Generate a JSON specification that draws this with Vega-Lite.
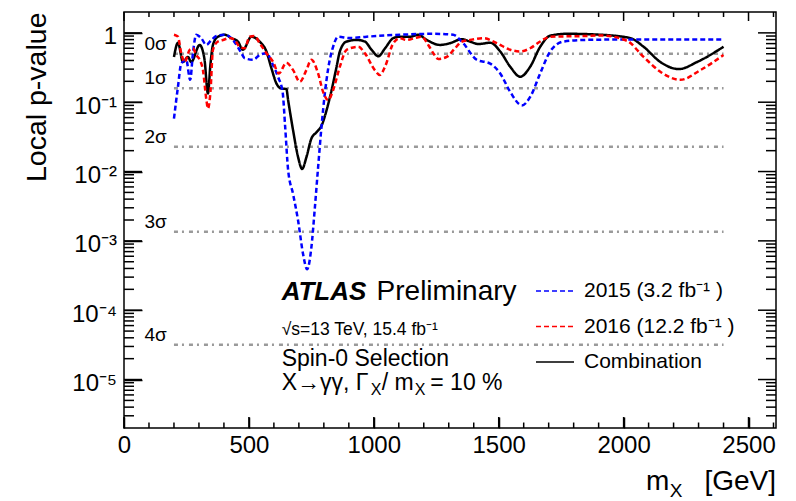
{
  "$schema": "https://vega.github.io/schema/vega-lite/v6.json",
  "width": 652,
  "height": 416,
  "autosize": {"type": "none"},
  "padding": {"left": 124, "top": 12, "right": 20, "bottom": 73},
  "background": "white",
  "config": {
    "view": {"stroke": "black", "strokeWidth": 1.5},
    "font": "Liberation Sans",
    "axis": {"domain": false, "grid": false, "tickColor": "black", "tickWidth": 1.5, "labelFont": "Liberation Sans", "labelFontSize": 24, "labelColor": "black", "labelFlush": false, "labelOverlap": false, "titleFont": "Liberation Sans", "titleColor": "black", "titleFontWeight": "normal"},
    "legend": {"labelFont": "Liberation Sans"}
  },
  "datasets": {
    "xmajor": [{"v": 0}, {"v": 500}, {"v": 1000}, {"v": 1500}, {"v": 2000}, {"v": 2500}],
    "xminor": [{"v": 100}, {"v": 200}, {"v": 300}, {"v": 400}, {"v": 600}, {"v": 700}, {"v": 800}, {"v": 900}, {"v": 1100}, {"v": 1200}, {"v": 1300}, {"v": 1400}, {"v": 1600}, {"v": 1700}, {"v": 1800}, {"v": 1900}, {"v": 2100}, {"v": 2200}, {"v": 2300}, {"v": 2400}, {"v": 2600}],
    "ymajor": [{"v": 0.00001}, {"v": 0.0001}, {"v": 0.001}, {"v": 0.01}, {"v": 0.1}, {"v": 1}],
    "yminor": [{"v": 0.000003}, {"v": 0.000004}, {"v": 0.000005}, {"v": 0.000006}, {"v": 0.000007}, {"v": 0.000008}, {"v": 0.000009}, {"v": 0.00002}, {"v": 0.00003}, {"v": 0.00004}, {"v": 0.00005}, {"v": 0.00006}, {"v": 0.00007}, {"v": 0.00008}, {"v": 0.00009}, {"v": 0.0002}, {"v": 0.0003}, {"v": 0.0004}, {"v": 0.0005}, {"v": 0.0006}, {"v": 0.0007}, {"v": 0.0008}, {"v": 0.0009}, {"v": 0.002}, {"v": 0.003}, {"v": 0.004}, {"v": 0.005}, {"v": 0.006}, {"v": 0.007}, {"v": 0.008}, {"v": 0.009}, {"v": 0.02}, {"v": 0.03}, {"v": 0.04}, {"v": 0.05}, {"v": 0.06}, {"v": 0.07}, {"v": 0.08}, {"v": 0.09}, {"v": 0.2}, {"v": 0.3}, {"v": 0.4}, {"v": 0.5}, {"v": 0.6}, {"v": 0.7}, {"v": 0.8}, {"v": 0.9}],
    "sigma": [
      {"level": "0σ", "p": 0.5},
      {"level": "1σ", "p": 0.1587},
      {"level": "2σ", "p": 0.02275},
      {"level": "3σ", "p": 0.00135},
      {"level": "4σ", "p": 0.0000317}
    ],
    "curves": [
      {"series": "Combination", "m": 200, "p": 0.45},
      {"series": "Combination", "m": 216, "p": 0.72},
      {"series": "Combination", "m": 236, "p": 0.38},
      {"series": "Combination", "m": 256, "p": 0.45},
      {"series": "Combination", "m": 269, "p": 0.38},
      {"series": "Combination", "m": 303, "p": 0.67},
      {"series": "Combination", "m": 322, "p": 0.42},
      {"series": "Combination", "m": 336, "p": 0.134},
      {"series": "Combination", "m": 346, "p": 0.35},
      {"series": "Combination", "m": 356, "p": 0.67},
      {"series": "Combination", "m": 376, "p": 0.88},
      {"series": "Combination", "m": 403, "p": 0.94},
      {"series": "Combination", "m": 430, "p": 0.84},
      {"series": "Combination", "m": 456, "p": 0.75},
      {"series": "Combination", "m": 476, "p": 0.57},
      {"series": "Combination", "m": 510, "p": 0.88},
      {"series": "Combination", "m": 543, "p": 0.75},
      {"series": "Combination", "m": 570, "p": 0.54},
      {"series": "Combination", "m": 590, "p": 0.31},
      {"series": "Combination", "m": 610, "p": 0.187},
      {"series": "Combination", "m": 630, "p": 0.158},
      {"series": "Combination", "m": 650, "p": 0.155},
      {"series": "Combination", "m": 657, "p": 0.107},
      {"series": "Combination", "m": 677, "p": 0.039},
      {"series": "Combination", "m": 697, "p": 0.0161},
      {"series": "Combination", "m": 713, "p": 0.0109},
      {"series": "Combination", "m": 730, "p": 0.016},
      {"series": "Combination", "m": 750, "p": 0.0298},
      {"series": "Combination", "m": 771, "p": 0.037},
      {"series": "Combination", "m": 791, "p": 0.046},
      {"series": "Combination", "m": 811, "p": 0.077},
      {"series": "Combination", "m": 831, "p": 0.149},
      {"series": "Combination", "m": 851, "p": 0.325},
      {"series": "Combination", "m": 864, "p": 0.54},
      {"series": "Combination", "m": 891, "p": 0.75},
      {"series": "Combination", "m": 931, "p": 0.79},
      {"series": "Combination", "m": 964, "p": 0.75},
      {"series": "Combination", "m": 991, "p": 0.57},
      {"series": "Combination", "m": 1018, "p": 0.46},
      {"series": "Combination", "m": 1045, "p": 0.6},
      {"series": "Combination", "m": 1078, "p": 0.84},
      {"series": "Combination", "m": 1105, "p": 0.88},
      {"series": "Combination", "m": 1145, "p": 0.88},
      {"series": "Combination", "m": 1178, "p": 0.94},
      {"series": "Combination", "m": 1212, "p": 0.79},
      {"series": "Combination", "m": 1265, "p": 0.67},
      {"series": "Combination", "m": 1305, "p": 0.71},
      {"series": "Combination", "m": 1352, "p": 0.81},
      {"series": "Combination", "m": 1385, "p": 0.75},
      {"series": "Combination", "m": 1419, "p": 0.69},
      {"series": "Combination", "m": 1466, "p": 0.72},
      {"series": "Combination", "m": 1506, "p": 0.54},
      {"series": "Combination", "m": 1546, "p": 0.325},
      {"series": "Combination", "m": 1586, "p": 0.233},
      {"series": "Combination", "m": 1626, "p": 0.325},
      {"series": "Combination", "m": 1666, "p": 0.63},
      {"series": "Combination", "m": 1706, "p": 0.91},
      {"series": "Combination", "m": 1773, "p": 0.97},
      {"series": "Combination", "m": 1907, "p": 0.94},
      {"series": "Combination", "m": 2027, "p": 0.84},
      {"series": "Combination", "m": 2080, "p": 0.63},
      {"series": "Combination", "m": 2147, "p": 0.38},
      {"series": "Combination", "m": 2221, "p": 0.3},
      {"series": "Combination", "m": 2294, "p": 0.38},
      {"series": "Combination", "m": 2400, "p": 0.63},
      {"series": "2015 (3.2 fb⁻¹ )", "m": 200, "p": 0.058},
      {"series": "2015 (3.2 fb⁻¹ )", "m": 216, "p": 0.167},
      {"series": "2015 (3.2 fb⁻¹ )", "m": 229, "p": 0.36},
      {"series": "2015 (3.2 fb⁻¹ )", "m": 249, "p": 0.41},
      {"series": "2015 (3.2 fb⁻¹ )", "m": 265, "p": 0.21},
      {"series": "2015 (3.2 fb⁻¹ )", "m": 276, "p": 0.51},
      {"series": "2015 (3.2 fb⁻¹ )", "m": 289, "p": 0.94},
      {"series": "2015 (3.2 fb⁻¹ )", "m": 309, "p": 0.84},
      {"series": "2015 (3.2 fb⁻¹ )", "m": 330, "p": 0.67},
      {"series": "2015 (3.2 fb⁻¹ )", "m": 350, "p": 0.79},
      {"series": "2015 (3.2 fb⁻¹ )", "m": 370, "p": 0.9},
      {"series": "2015 (3.2 fb⁻¹ )", "m": 403, "p": 0.94},
      {"series": "2015 (3.2 fb⁻¹ )", "m": 436, "p": 0.79},
      {"series": "2015 (3.2 fb⁻¹ )", "m": 470, "p": 0.51},
      {"series": "2015 (3.2 fb⁻¹ )", "m": 483, "p": 0.43},
      {"series": "2015 (3.2 fb⁻¹ )", "m": 517, "p": 0.41},
      {"series": "2015 (3.2 fb⁻¹ )", "m": 543, "p": 0.48},
      {"series": "2015 (3.2 fb⁻¹ )", "m": 570, "p": 0.51},
      {"series": "2015 (3.2 fb⁻¹ )", "m": 597, "p": 0.34},
      {"series": "2015 (3.2 fb⁻¹ )", "m": 617, "p": 0.23},
      {"series": "2015 (3.2 fb⁻¹ )", "m": 635, "p": 0.14},
      {"series": "2015 (3.2 fb⁻¹ )", "m": 645, "p": 0.045},
      {"series": "2015 (3.2 fb⁻¹ )", "m": 657, "p": 0.0105},
      {"series": "2015 (3.2 fb⁻¹ )", "m": 677, "p": 0.0047},
      {"series": "2015 (3.2 fb⁻¹ )", "m": 697, "p": 0.00195},
      {"series": "2015 (3.2 fb⁻¹ )", "m": 717, "p": 0.00064},
      {"series": "2015 (3.2 fb⁻¹ )", "m": 733, "p": 0.00039},
      {"series": "2015 (3.2 fb⁻¹ )", "m": 750, "p": 0.0008},
      {"series": "2015 (3.2 fb⁻¹ )", "m": 764, "p": 0.003},
      {"series": "2015 (3.2 fb⁻¹ )", "m": 777, "p": 0.0115},
      {"series": "2015 (3.2 fb⁻¹ )", "m": 791, "p": 0.046},
      {"series": "2015 (3.2 fb⁻¹ )", "m": 804, "p": 0.134},
      {"series": "2015 (3.2 fb⁻¹ )", "m": 817, "p": 0.3},
      {"series": "2015 (3.2 fb⁻¹ )", "m": 837, "p": 0.63},
      {"series": "2015 (3.2 fb⁻¹ )", "m": 857, "p": 0.88},
      {"series": "2015 (3.2 fb⁻¹ )", "m": 904, "p": 0.84},
      {"series": "2015 (3.2 fb⁻¹ )", "m": 971, "p": 0.88},
      {"series": "2015 (3.2 fb⁻¹ )", "m": 1105, "p": 0.94},
      {"series": "2015 (3.2 fb⁻¹ )", "m": 1238, "p": 0.97},
      {"series": "2015 (3.2 fb⁻¹ )", "m": 1318, "p": 0.94},
      {"series": "2015 (3.2 fb⁻¹ )", "m": 1352, "p": 0.75},
      {"series": "2015 (3.2 fb⁻¹ )", "m": 1412, "p": 0.41},
      {"series": "2015 (3.2 fb⁻¹ )", "m": 1466, "p": 0.36},
      {"series": "2015 (3.2 fb⁻¹ )", "m": 1506, "p": 0.26},
      {"series": "2015 (3.2 fb⁻¹ )", "m": 1546, "p": 0.141},
      {"series": "2015 (3.2 fb⁻¹ )", "m": 1593, "p": 0.09},
      {"series": "2015 (3.2 fb⁻¹ )", "m": 1626, "p": 0.119},
      {"series": "2015 (3.2 fb⁻¹ )", "m": 1666, "p": 0.26},
      {"series": "2015 (3.2 fb⁻¹ )", "m": 1706, "p": 0.54},
      {"series": "2015 (3.2 fb⁻¹ )", "m": 1760, "p": 0.75},
      {"series": "2015 (3.2 fb⁻¹ )", "m": 1840, "p": 0.79},
      {"series": "2015 (3.2 fb⁻¹ )", "m": 1947, "p": 0.8},
      {"series": "2015 (3.2 fb⁻¹ )", "m": 2400, "p": 0.8},
      {"series": "2016 (12.2 fb⁻¹ )", "m": 200, "p": 0.94},
      {"series": "2016 (12.2 fb⁻¹ )", "m": 216, "p": 0.88},
      {"series": "2016 (12.2 fb⁻¹ )", "m": 229, "p": 0.51},
      {"series": "2016 (12.2 fb⁻¹ )", "m": 243, "p": 0.38},
      {"series": "2016 (12.2 fb⁻¹ )", "m": 263, "p": 0.57},
      {"series": "2016 (12.2 fb⁻¹ )", "m": 276, "p": 0.6},
      {"series": "2016 (12.2 fb⁻¹ )", "m": 289, "p": 0.48},
      {"series": "2016 (12.2 fb⁻¹ )", "m": 303, "p": 0.41},
      {"series": "2016 (12.2 fb⁻¹ )", "m": 316, "p": 0.29},
      {"series": "2016 (12.2 fb⁻¹ )", "m": 330, "p": 0.107},
      {"series": "2016 (12.2 fb⁻¹ )", "m": 336, "p": 0.081},
      {"series": "2016 (12.2 fb⁻¹ )", "m": 346, "p": 0.14},
      {"series": "2016 (12.2 fb⁻¹ )", "m": 356, "p": 0.57},
      {"series": "2016 (12.2 fb⁻¹ )", "m": 376, "p": 0.75},
      {"series": "2016 (12.2 fb⁻¹ )", "m": 396, "p": 0.79},
      {"series": "2016 (12.2 fb⁻¹ )", "m": 423, "p": 0.84},
      {"series": "2016 (12.2 fb⁻¹ )", "m": 443, "p": 0.79},
      {"series": "2016 (12.2 fb⁻¹ )", "m": 463, "p": 0.63},
      {"series": "2016 (12.2 fb⁻¹ )", "m": 483, "p": 0.6},
      {"series": "2016 (12.2 fb⁻¹ )", "m": 503, "p": 0.88},
      {"series": "2016 (12.2 fb⁻¹ )", "m": 523, "p": 0.9},
      {"series": "2016 (12.2 fb⁻¹ )", "m": 543, "p": 0.71},
      {"series": "2016 (12.2 fb⁻¹ )", "m": 570, "p": 0.51},
      {"series": "2016 (12.2 fb⁻¹ )", "m": 597, "p": 0.38},
      {"series": "2016 (12.2 fb⁻¹ )", "m": 620, "p": 0.26},
      {"series": "2016 (12.2 fb⁻¹ )", "m": 650, "p": 0.37},
      {"series": "2016 (12.2 fb⁻¹ )", "m": 677, "p": 0.29},
      {"series": "2016 (12.2 fb⁻¹ )", "m": 704, "p": 0.197},
      {"series": "2016 (12.2 fb⁻¹ )", "m": 730, "p": 0.29},
      {"series": "2016 (12.2 fb⁻¹ )", "m": 750, "p": 0.41},
      {"series": "2016 (12.2 fb⁻¹ )", "m": 777, "p": 0.26},
      {"series": "2016 (12.2 fb⁻¹ )", "m": 797, "p": 0.141},
      {"series": "2016 (12.2 fb⁻¹ )", "m": 817, "p": 0.107},
      {"series": "2016 (12.2 fb⁻¹ )", "m": 837, "p": 0.149},
      {"series": "2016 (12.2 fb⁻¹ )", "m": 864, "p": 0.325},
      {"series": "2016 (12.2 fb⁻¹ )", "m": 891, "p": 0.57},
      {"series": "2016 (12.2 fb⁻¹ )", "m": 938, "p": 0.63},
      {"series": "2016 (12.2 fb⁻¹ )", "m": 964, "p": 0.51},
      {"series": "2016 (12.2 fb⁻¹ )", "m": 1004, "p": 0.29},
      {"series": "2016 (12.2 fb⁻¹ )", "m": 1024, "p": 0.246},
      {"series": "2016 (12.2 fb⁻¹ )", "m": 1045, "p": 0.325},
      {"series": "2016 (12.2 fb⁻¹ )", "m": 1078, "p": 0.71},
      {"series": "2016 (12.2 fb⁻¹ )", "m": 1105, "p": 0.84},
      {"series": "2016 (12.2 fb⁻¹ )", "m": 1131, "p": 0.79},
      {"series": "2016 (12.2 fb⁻¹ )", "m": 1165, "p": 0.84},
      {"series": "2016 (12.2 fb⁻¹ )", "m": 1192, "p": 0.88},
      {"series": "2016 (12.2 fb⁻¹ )", "m": 1218, "p": 0.67},
      {"series": "2016 (12.2 fb⁻¹ )", "m": 1238, "p": 0.51},
      {"series": "2016 (12.2 fb⁻¹ )", "m": 1258, "p": 0.42},
      {"series": "2016 (12.2 fb⁻¹ )", "m": 1292, "p": 0.45},
      {"series": "2016 (12.2 fb⁻¹ )", "m": 1325, "p": 0.6},
      {"series": "2016 (12.2 fb⁻¹ )", "m": 1350, "p": 0.74},
      {"series": "2016 (12.2 fb⁻¹ )", "m": 1385, "p": 0.79},
      {"series": "2016 (12.2 fb⁻¹ )", "m": 1439, "p": 0.84},
      {"series": "2016 (12.2 fb⁻¹ )", "m": 1492, "p": 0.71},
      {"series": "2016 (12.2 fb⁻¹ )", "m": 1546, "p": 0.57},
      {"series": "2016 (12.2 fb⁻¹ )", "m": 1586, "p": 0.54},
      {"series": "2016 (12.2 fb⁻¹ )", "m": 1626, "p": 0.6},
      {"series": "2016 (12.2 fb⁻¹ )", "m": 1666, "p": 0.75},
      {"series": "2016 (12.2 fb⁻¹ )", "m": 1706, "p": 0.88},
      {"series": "2016 (12.2 fb⁻¹ )", "m": 1840, "p": 0.9},
      {"series": "2016 (12.2 fb⁻¹ )", "m": 1907, "p": 0.92},
      {"series": "2016 (12.2 fb⁻¹ )", "m": 2013, "p": 0.77},
      {"series": "2016 (12.2 fb⁻¹ )", "m": 2080, "p": 0.45},
      {"series": "2016 (12.2 fb⁻¹ )", "m": 2147, "p": 0.275},
      {"series": "2016 (12.2 fb⁻¹ )", "m": 2227, "p": 0.21},
      {"series": "2016 (12.2 fb⁻¹ )", "m": 2307, "p": 0.29},
      {"series": "2016 (12.2 fb⁻¹ )", "m": 2400, "p": 0.48}
    ]
  },
  "resolve": {"axis": {"x": "independent", "y": "independent"}},
  "layer": [
    {
      "data": {"name": "sigma"},
      "mark": {"type": "rule", "stroke": "#9a9a9a", "strokeWidth": 2.5, "strokeDash": [4, 4, 2, 5]},
      "encoding": {
        "x": {"datum": 200, "type": "quantitative", "scale": {"domain": [0, 2610], "nice": false, "zero": false},
          "axis": {"orient": "bottom", "values": [0, 500, 1000, 1500, 2000, 2500], "tickSize": -11, "labelPadding": 16, "labelBaseline": "top", "format": "d", "title": null}},
        "x2": {"datum": 2400},
        "y": {"field": "p", "type": "quantitative", "scale": {"type": "log", "domain": [0.000002, 2], "nice": false},
          "axis": {"orient": "left", "values": [0.00001, 0.0001, 0.001, 0.01, 0.1, 1], "tickSize": -18, "labelPadding": 25.5, "labelOffset": 4,
            "labelExpr": "datum.value >= 0.5 ? '1' : '10⁻' + ['0','¹','²','³','⁴','⁵','⁶'][round(-log(datum.value)/LN10)]",
            "title": "Local p-value", "titleFontSize": 28.5, "titleX": -79, "titleY": 0, "titleAlign": "right", "titleAngle": 270, "titleBaseline": "alphabetic"}}
      }
    },
    {
      "data": {"name": "xmajor"},
      "mark": {"type": "rule", "stroke": "black", "strokeWidth": 1.5},
      "encoding": {
        "x": {"field": "v", "type": "quantitative", "scale": {"domain": [0, 2610], "nice": false, "zero": false}, "axis": null},
        "y": {"datum": 0.000002, "type": "quantitative", "scale": {"type": "log", "domain": [0.000002, 2], "nice": false}, "axis": null},
        "y2": {"datum": 0.00000288}
      }
    },
    {
      "data": {"name": "xminor"},
      "mark": {"type": "rule", "stroke": "black", "strokeWidth": 1.5},
      "encoding": {
        "x": {"field": "v", "type": "quantitative", "scale": {"domain": [0, 2610], "nice": false, "zero": false}, "axis": null},
        "y": {"datum": 0.000002, "type": "quantitative", "scale": {"type": "log", "domain": [0.000002, 2], "nice": false}, "axis": null},
        "y2": {"datum": 0.0000024}
      }
    },
    {
      "data": {"name": "xmajor"},
      "mark": {"type": "rule", "stroke": "black", "strokeWidth": 1.5},
      "encoding": {
        "x": {"field": "v", "type": "quantitative", "scale": {"domain": [0, 2610], "nice": false, "zero": false}, "axis": null},
        "y": {"datum": 2, "type": "quantitative", "scale": {"type": "log", "domain": [0.000002, 2], "nice": false}, "axis": null},
        "y2": {"datum": 1.483}
      }
    },
    {
      "data": {"name": "xminor"},
      "mark": {"type": "rule", "stroke": "black", "strokeWidth": 1.5},
      "encoding": {
        "x": {"field": "v", "type": "quantitative", "scale": {"domain": [0, 2610], "nice": false, "zero": false}, "axis": null},
        "y": {"datum": 2, "type": "quantitative", "scale": {"type": "log", "domain": [0.000002, 2], "nice": false}, "axis": null},
        "y2": {"datum": 1.694}
      }
    },
    {
      "data": {"name": "ymajor"},
      "mark": {"type": "rule", "stroke": "black", "strokeWidth": 1.5},
      "encoding": {
        "y": {"field": "v", "type": "quantitative", "scale": {"type": "log", "domain": [0.000002, 2], "nice": false}, "axis": null},
        "x": {"datum": 0, "type": "quantitative", "scale": {"domain": [0, 2610], "nice": false, "zero": false}, "axis": null},
        "x2": {"datum": 72}
      }
    },
    {
      "data": {"name": "yminor"},
      "mark": {"type": "rule", "stroke": "black", "strokeWidth": 1.5},
      "encoding": {
        "y": {"field": "v", "type": "quantitative", "scale": {"type": "log", "domain": [0.000002, 2], "nice": false}, "axis": null},
        "x": {"datum": 0, "type": "quantitative", "scale": {"domain": [0, 2610], "nice": false, "zero": false}, "axis": null},
        "x2": {"datum": 40}
      }
    },
    {
      "data": {"name": "ymajor"},
      "mark": {"type": "rule", "stroke": "black", "strokeWidth": 1.5},
      "encoding": {
        "y": {"field": "v", "type": "quantitative", "scale": {"type": "log", "domain": [0.000002, 2], "nice": false}, "axis": null},
        "x": {"datum": 2610, "type": "quantitative", "scale": {"domain": [0, 2610], "nice": false, "zero": false}, "axis": null},
        "x2": {"datum": 2538}
      }
    },
    {
      "data": {"name": "yminor"},
      "mark": {"type": "rule", "stroke": "black", "strokeWidth": 1.5},
      "encoding": {
        "y": {"field": "v", "type": "quantitative", "scale": {"type": "log", "domain": [0.000002, 2], "nice": false}, "axis": null},
        "x": {"datum": 2610, "type": "quantitative", "scale": {"domain": [0, 2610], "nice": false, "zero": false}, "axis": null},
        "x2": {"datum": 2570}
      }
    },
    {
      "data": {"name": "sigma"},
      "mark": {"type": "text", "align": "right", "baseline": "alphabetic", "dy": -4, "fontSize": 19, "font": "Liberation Sans", "color": "black"},
      "encoding": {
        "x": {"datum": 171, "type": "quantitative", "scale": {"domain": [0, 2610], "nice": false, "zero": false}, "axis": null},
        "y": {"field": "p", "type": "quantitative", "scale": {"type": "log", "domain": [0.000002, 2], "nice": false}, "axis": null},
        "text": {"field": "level"}
      }
    },
    {
      "data": {"name": "curves"},
      "mark": {"type": "line", "interpolate": "monotone", "strokeWidth": 2.5},
      "encoding": {
        "x": {"field": "m", "type": "quantitative", "scale": {"domain": [0, 2610], "nice": false, "zero": false}, "axis": null},
        "y": {"field": "p", "type": "quantitative", "scale": {"type": "log", "domain": [0.000002, 2], "nice": false}, "axis": null},
        "color": {"field": "series", "type": "nominal",
          "scale": {"domain": ["2015 (3.2 fb⁻¹ )", "2016 (12.2 fb⁻¹ )", "Combination"], "range": ["#0000ff", "#ff0000", "#000000"]},
          "legend": {"orient": "none", "legendX": 411, "legendY": 259, "title": null, "symbolType": "stroke", "symbolSize": 1444, "symbolStrokeWidth": 1.5, "labelFontSize": 21, "labelColor": "black", "labelOffset": 9, "rowPadding": 5.5, "padding": 0}},
        "strokeDash": {"field": "series", "type": "nominal",
          "scale": {"domain": ["2015 (3.2 fb⁻¹ )", "2016 (12.2 fb⁻¹ )", "Combination"], "range": [[5, 3], [5, 3], [1, 0]]},
          "legend": {"orient": "none", "legendX": 411, "legendY": 259, "title": null, "symbolType": "stroke", "symbolSize": 1444, "symbolStrokeWidth": 1.5, "labelFontSize": 21, "labelColor": "black", "labelOffset": 9, "rowPadding": 5.5, "padding": 0}}
      }
    },
    {
      "data": {"values": [{}]},
      "mark": {"type": "text", "align": "left", "baseline": "alphabetic", "fontSize": 26, "fontWeight": "bold", "fontStyle": "italic", "font": "Liberation Sans", "color": "black", "text": "ATLAS"},
      "encoding": {
        "x": {"datum": 631, "type": "quantitative", "scale": {"domain": [0, 2610], "nice": false, "zero": false}, "axis": null},
        "y": {"datum": 0.00014, "type": "quantitative", "scale": {"type": "log", "domain": [0.000002, 2], "nice": false}, "axis": null}
      }
    },
    {
      "data": {"values": [{}]},
      "mark": {"type": "text", "align": "left", "baseline": "alphabetic", "fontSize": 28, "font": "Liberation Sans", "color": "black", "text": "Preliminary"},
      "encoding": {
        "x": {"datum": 1011, "type": "quantitative", "scale": {"domain": [0, 2610], "nice": false, "zero": false}, "axis": null},
        "y": {"datum": 0.00014, "type": "quantitative", "scale": {"type": "log", "domain": [0.000002, 2], "nice": false}, "axis": null}
      }
    },
    {
      "data": {"values": [{}]},
      "mark": {"type": "text", "align": "left", "baseline": "alphabetic", "fontSize": 17.5, "font": "Liberation Sans", "color": "black", "text": "√s=13 TeV, 15.4 fb⁻¹"},
      "encoding": {
        "x": {"datum": 631, "type": "quantitative", "scale": {"domain": [0, 2610], "nice": false, "zero": false}, "axis": null},
        "y": {"datum": 0.0000439, "type": "quantitative", "scale": {"type": "log", "domain": [0.000002, 2], "nice": false}, "axis": null}
      }
    },
    {
      "data": {"values": [{}]},
      "mark": {"type": "text", "align": "left", "baseline": "alphabetic", "fontSize": 23, "font": "Liberation Sans", "color": "black", "text": "Spin-0 Selection"},
      "encoding": {
        "x": {"datum": 631, "type": "quantitative", "scale": {"domain": [0, 2610], "nice": false, "zero": false}, "axis": null},
        "y": {"datum": 0.0000157, "type": "quantitative", "scale": {"type": "log", "domain": [0.000002, 2], "nice": false}, "axis": null}
      }
    },
    {
      "data": {"values": [{}]},
      "mark": {"type": "text", "align": "left", "baseline": "alphabetic", "fontSize": 23, "font": "Liberation Sans", "color": "black", "text": "X→γγ, Γ"},
      "encoding": {
        "x": {"datum": 631, "type": "quantitative", "scale": {"domain": [0, 2610], "nice": false, "zero": false}, "axis": null},
        "y": {"datum": 0.00000706, "type": "quantitative", "scale": {"type": "log", "domain": [0.000002, 2], "nice": false}, "axis": null}
      }
    },
    {
      "data": {"values": [{}]},
      "mark": {"type": "text", "align": "left", "baseline": "alphabetic", "fontSize": 16, "font": "Liberation Sans", "color": "black", "text": "X"},
      "encoding": {
        "x": {"datum": 988, "type": "quantitative", "scale": {"domain": [0, 2610], "nice": false, "zero": false}, "axis": null},
        "y": {"datum": 0.00000598, "type": "quantitative", "scale": {"type": "log", "domain": [0.000002, 2], "nice": false}, "axis": null}
      }
    },
    {
      "data": {"values": [{}]},
      "mark": {"type": "text", "align": "left", "baseline": "alphabetic", "fontSize": 23, "font": "Liberation Sans", "color": "black", "text": "/ m"},
      "encoding": {
        "x": {"datum": 1032, "type": "quantitative", "scale": {"domain": [0, 2610], "nice": false, "zero": false}, "axis": null},
        "y": {"datum": 0.00000706, "type": "quantitative", "scale": {"type": "log", "domain": [0.000002, 2], "nice": false}, "axis": null}
      }
    },
    {
      "data": {"values": [{}]},
      "mark": {"type": "text", "align": "left", "baseline": "alphabetic", "fontSize": 16, "font": "Liberation Sans", "color": "black", "text": "X"},
      "encoding": {
        "x": {"datum": 1164, "type": "quantitative", "scale": {"domain": [0, 2610], "nice": false, "zero": false}, "axis": null},
        "y": {"datum": 0.00000598, "type": "quantitative", "scale": {"type": "log", "domain": [0.000002, 2], "nice": false}, "axis": null}
      }
    },
    {
      "data": {"values": [{}]},
      "mark": {"type": "text", "align": "left", "baseline": "alphabetic", "fontSize": 23, "font": "Liberation Sans", "color": "black", "text": "= 10 %"},
      "encoding": {
        "x": {"datum": 1226, "type": "quantitative", "scale": {"domain": [0, 2610], "nice": false, "zero": false}, "axis": null},
        "y": {"datum": 0.00000706, "type": "quantitative", "scale": {"type": "log", "domain": [0.000002, 2], "nice": false}, "axis": null}
      }
    },
    {
      "data": {"values": [{}]},
      "mark": {"type": "text", "align": "right", "baseline": "alphabetic", "fontSize": 28, "font": "Liberation Sans", "color": "black", "text": "m"},
      "encoding": {
        "x": {"datum": 2183, "type": "quantitative", "scale": {"domain": [0, 2610], "nice": false, "zero": false}, "axis": null},
        "y": {"datum": 0.000000255, "type": "quantitative", "scale": {"type": "log", "domain": [0.000002, 2], "nice": false}, "axis": null}
      }
    },
    {
      "data": {"values": [{}]},
      "mark": {"type": "text", "align": "left", "baseline": "alphabetic", "fontSize": 19, "font": "Liberation Sans", "color": "black", "text": "X"},
      "encoding": {
        "x": {"datum": 2185, "type": "quantitative", "scale": {"domain": [0, 2610], "nice": false, "zero": false}, "axis": null},
        "y": {"datum": 0.000000202, "type": "quantitative", "scale": {"type": "log", "domain": [0.000002, 2], "nice": false}, "axis": null}
      }
    },
    {
      "data": {"values": [{}]},
      "mark": {"type": "text", "align": "right", "baseline": "alphabetic", "fontSize": 28, "font": "Liberation Sans", "color": "black", "text": "[GeV]"},
      "encoding": {
        "x": {"datum": 2610, "type": "quantitative", "scale": {"domain": [0, 2610], "nice": false, "zero": false}, "axis": null},
        "y": {"datum": 0.000000255, "type": "quantitative", "scale": {"type": "log", "domain": [0.000002, 2], "nice": false}, "axis": null}
      }
    }
  ]
}
